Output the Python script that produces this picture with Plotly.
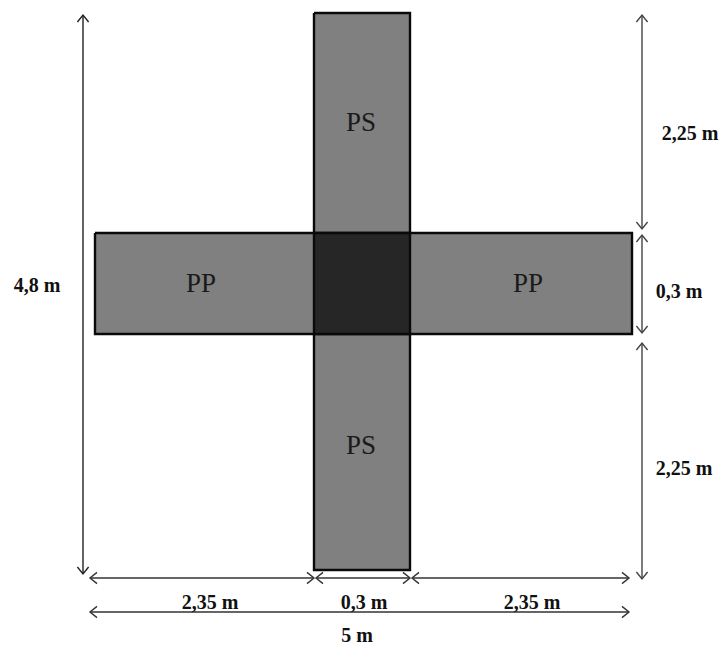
import plotly.graph_objects as go

W, H = 721, 646
# Beam outlines as (x0, x1, y0, y1) on the 721x646 drawing grid
vertical_beam = (314, 410, 13, 570)
horizontal_beam = (95, 632, 233, 334)
crossing = (314, 410, 233, 334)
beam_colors = ["#808080", "#808080", "#262626"]

# Dimension arrows: (x0, y0, x1, y1)
arrows = [
    (83, 15, 83, 574),
    (642, 15, 642, 229),
    (642, 235, 642, 333),
    (642, 343, 642, 579),
    (90, 578, 314, 578),
    (316, 578, 410, 578),
    (412, 578, 629, 578),
    (90, 612, 629, 612),
]
arrow_colors = ["#222222", "#444444", "#444444", "#444444", "#333333", "#333333", "#333333", "#333333"]

dim_labels = ["4,8 m", "2,25 m", "0,3 m", "2,25 m", "2,35 m", "0,3 m", "2,35 m", "5 m"]
dim_x = [37, 690, 679, 684, 210, 364, 532, 357]
dim_y = [287, 135, 293, 470, 604, 604, 604, 637]

beam_labels = ["PS", "PP", "PP", "PS"]
beam_x = [361, 201, 528, 361]
beam_y = [124, 285, 285, 447]

HEAD = 7

fig = go.Figure()

for (x0, x1, y0, y1), color in zip([vertical_beam, horizontal_beam, crossing], beam_colors):
    fig.add_trace(go.Scatter(
        x=[x0, x1, x1, x0, x0], y=[y0, y0, y1, y1, y0],
        mode="lines", fill="toself", fillcolor=color,
        line=dict(color="#0a0a0a", width=2.4), hoverinfo="skip", showlegend=False,
    ))

for (x0, y0, x1, y1), color in zip(arrows, arrow_colors):
    if x0 == x1:
        xs = [x0 - HEAD * 0.8, x0, x0 + HEAD * 0.8, None, x0, x0, None, x1 - HEAD * 0.8, x1, x1 + HEAD * 0.8]
        ys = [y0 + HEAD, y0, y0 + HEAD, None, y0, y1, None, y1 - HEAD, y1, y1 - HEAD]
    else:
        xs = [x0 + HEAD, x0, x0 + HEAD, None, x0, x1, None, x1 - HEAD, x1, x1 - HEAD]
        ys = [y0 - HEAD * 0.8, y0, y0 + HEAD * 0.8, None, y0, y1, None, y1 - HEAD * 0.8, y1, y1 + HEAD * 0.8]
    fig.add_trace(go.Scatter(
        x=xs, y=ys, mode="lines", line=dict(color=color, width=1.4),
        hoverinfo="skip", showlegend=False,
    ))

fig.add_trace(go.Scatter(
    x=dim_x, y=dim_y, text=dim_labels, mode="text", textposition="middle center",
    textfont=dict(family="Liberation Serif", size=20, color="#111111", weight="bold"),
    hoverinfo="skip", showlegend=False, cliponaxis=False,
))
fig.add_trace(go.Scatter(
    x=beam_x, y=beam_y, text=beam_labels, mode="text", textposition="middle center",
    textfont=dict(family="Liberation Serif", size=27, color="#1a1a1a"),
    hoverinfo="skip", showlegend=False,
))

fig.update_layout(
    width=W, height=H, autosize=False,
    margin=dict(l=0, r=0, t=0, b=0),
    paper_bgcolor="white", plot_bgcolor="white",
    xaxis=dict(range=[0, W], visible=False, fixedrange=True),
    yaxis=dict(range=[H, 0], visible=False, fixedrange=True),
)
fig.write_html(
    "out.html",
    config=dict(displayModeBar=False),
    post_script="document.body.style.margin='0';document.body.style.overflow='hidden';",
)
